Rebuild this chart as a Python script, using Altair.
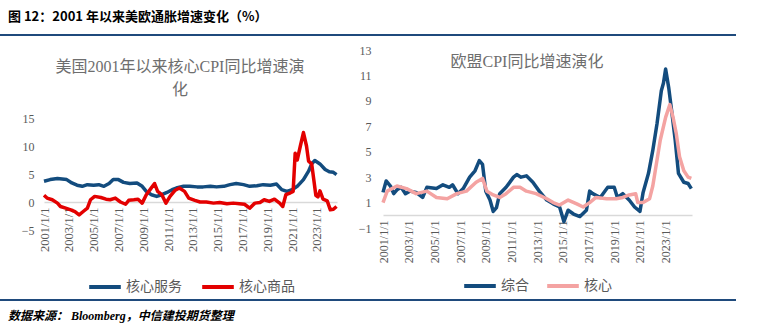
import altair as alt
import pandas as pd

# ---------------- text ----------------
HEADER = "图 12：2001 年以来美欧通胀增速变化（%）"
FOOTER = "数据来源： Bloomberg，中信建投期货整理"
US_TITLE_1 = "美国2001年以来核心CPI同比增速演"
US_TITLE_2 = "化"
EU_TITLE = "欧盟CPI同比增速演化"

US_SERIES = ["核心服务", "核心商品"]
EU_SERIES = ["综合", "核心"]

US_YTICKS = [-5, 0, 5, 10, 15]
EU_YTICKS = [-1, 1, 3, 5, 7, 9, 11, 13]
XTICK_YEARS = [2001, 2003, 2005, 2007, 2009, 2011, 2013, 2015, 2017, 2019, 2021, 2023]

# ---------------- US core services ----------------
us_serv_dates = ["2001-01", "2001-07", "2002-02", "2002-11", "2003-04", "2003-09", "2004-02", "2004-07",
                 "2005-01", "2005-06", "2005-11", "2006-04", "2006-08", "2007-01", "2007-06", "2007-12",
                 "2008-07", "2008-12", "2009-04", "2009-09", "2010-02", "2010-07", "2010-12", "2011-05",
                 "2011-09", "2012-04", "2012-10", "2013-05", "2013-11", "2014-06", "2014-12", "2015-07",
                 "2016-01", "2016-07", "2017-02", "2017-08", "2018-03", "2018-09", "2019-04", "2019-10",
                 "2020-03", "2020-08", "2021-01", "2021-06", "2021-12", "2022-05", "2022-08", "2022-11",
                 "2023-04", "2023-09", "2024-01", "2024-05", "2024-08"]
us_serv_vals = [3.7, 4.0, 4.2, 4.0, 3.4, 3.0, 2.8, 3.1,
                3.0, 3.1, 2.8, 3.3, 4.0, 4.0, 3.5, 3.3,
                3.4, 2.8, 1.9, 1.3, 1.0, 1.3, 1.7, 2.2,
                2.5, 2.8, 2.8, 2.7, 2.7, 2.8, 2.7, 2.8,
                3.1, 3.3, 3.1, 2.8, 2.9, 3.1, 3.0, 3.2,
                2.2, 1.9, 2.2, 2.8, 4.0, 5.5, 6.8, 7.4,
                6.8, 5.8, 5.4, 5.3, 4.9]

# ---------------- US core goods ----------------
us_goods_dates = ["2001-01", "2001-04", "2001-09", "2002-02", "2002-05", "2002-10", "2003-03", "2003-07",
                  "2003-11", "2004-03", "2004-07", "2004-10", "2005-02", "2005-08", "2006-01", "2006-05",
                  "2006-10", "2007-03", "2007-08", "2007-11", "2008-04", "2008-08", "2008-12", "2009-04",
                  "2009-08", "2009-12", "2010-03", "2010-07", "2010-11", "2011-03", "2011-08", "2011-12",
                  "2012-05", "2012-09", "2013-03", "2013-08", "2014-02", "2014-09", "2015-03", "2015-10",
                  "2016-04", "2016-10", "2017-03", "2017-08", "2018-01", "2018-06", "2018-10", "2019-03",
                  "2019-08", "2020-01", "2020-04", "2020-07", "2020-11", "2021-02", "2021-04", "2021-06",
                  "2021-09", "2021-12", "2022-03", "2022-05", "2022-08", "2022-10", "2022-12", "2023-02",
                  "2023-04", "2023-07", "2023-11", "2024-02", "2024-05", "2024-08"]
us_goods_vals = [1.2, 0.7, 0.4, -0.2, -0.8, -1.1, -1.4, -1.7,
                 -2.3, -1.7, -1.1, 0.4, 1.0, 0.8, 0.5, 0.4,
                 0.7, 0.0, -0.4, 0.3, 0.4, 0.5, -0.2, 1.3,
                 2.3, 3.3, 1.9, 1.3, -0.2, 1.0, 2.1, 2.5,
                 1.9, 0.7, 0.3, 0.0, 0.0, -0.2, -0.1, -0.3,
                 -0.2, -0.3, -0.4, -1.1, -0.2, -0.1, 0.4, 0.1,
                 0.5, -0.2, -0.8, 1.3, 1.6, 1.9, 8.7, 7.5,
                 10.0, 12.4, 10.0, 7.3, 6.8, 4.0, 1.2, 0.9,
                 2.0, 0.5, 0.2, -1.4, -1.3, -0.8]

# ---------------- EU headline (综合) ----------------
eu_all_dates = ["2001-01", "2001-04", "2001-08", "2001-11", "2002-02", "2002-06", "2002-10", "2003-02",
                "2003-08", "2004-02", "2004-06", "2005-03", "2005-09", "2006-03", "2006-06", "2006-11",
                "2007-04", "2007-10", "2008-03", "2008-07", "2008-10", "2009-01", "2009-05", "2009-08",
                "2009-11", "2010-02", "2010-08", "2011-03", "2011-06", "2011-10", "2012-03", "2012-09",
                "2013-03", "2013-10", "2014-04", "2014-10", "2015-02", "2015-06", "2015-11", "2016-05",
                "2016-11", "2017-02", "2017-05", "2017-12", "2018-07", "2019-01", "2019-04", "2019-09",
                "2020-03", "2020-08", "2021-01", "2021-04", "2021-09", "2022-01", "2022-05", "2022-09",
                "2022-11", "2023-01", "2023-04", "2023-07", "2023-10", "2024-01", "2024-06", "2024-10",
                "2025-01"]
eu_all_vals = [1.8, 2.7, 2.3, 1.7, 2.0, 2.2, 1.7, 1.9,
               1.8, 1.4, 2.2, 2.1, 2.4, 2.2, 2.4, 1.7,
               2.1, 3.0, 3.5, 4.3, 4.0, 1.9, 1.2, 0.3,
               0.6, 1.7, 2.2, 3.0, 3.2, 3.0, 3.1, 2.6,
               1.9, 1.2, 0.9, 0.65, -0.5, 0.4, 0.1, -0.1,
               0.4, 1.9, 1.7, 1.4, 2.2, 2.2, 1.4, 1.7,
               1.2, 0.65, 0.3, 1.8, 3.3, 5.1, 7.2, 9.8,
               10.4, 11.5, 10.0, 8.0, 5.9, 3.3, 2.6, 2.5,
               2.1]

# ---------------- EU core (核心) ----------------
eu_core_dates = ["2001-01", "2001-05", "2002-02", "2002-11", "2003-08", "2004-06", "2005-03", "2006-01",
                 "2006-10", "2007-07", "2008-04", "2008-10", "2009-02", "2009-08", "2010-02", "2010-08",
                 "2011-03", "2011-09", "2012-03", "2012-12", "2013-10", "2014-04", "2014-10", "2015-06",
                 "2016-02", "2016-08", "2017-02", "2017-08", "2018-06", "2019-03", "2019-09", "2020-03",
                 "2020-09", "2020-11", "2021-04", "2021-10", "2022-01", "2022-03", "2022-08", "2023-01",
                 "2023-05", "2023-08", "2023-11", "2024-02", "2024-06", "2024-10", "2025-01"]
eu_core_vals = [1.0, 1.9, 2.3, 2.1, 1.7, 1.9, 1.4, 1.3,
                1.7, 1.9, 2.6, 2.9, 1.9, 1.6, 1.4, 1.7,
                2.2, 2.2, 1.9, 1.7, 1.3, 1.0, 0.8, 1.2,
                0.9, 0.65, 1.0, 1.4, 1.3, 1.3, 1.4, 1.6,
                1.7, 1.0, 1.0, 1.3, 2.3, 3.3, 5.9, 7.7,
                8.7, 7.7, 6.4, 4.6, 3.5, 3.0, 2.9]

# ---------------- styling ----------------
BLUE = "#134c7e"
RED = "#e30000"
PINK = "#f4a3a2"
RULE = "#1f4a7c"
GRAY = "#595959"
SERIF = "Liberation Serif, Noto Sans CJK SC"
CJK = "Noto Sans CJK SC"


def long_df(names, dates_list, vals_list):
    rows = []
    for name, ds, vs in zip(names, dates_list, vals_list):
        for d, v in zip(ds, vs):
            rows.append({"date": d + "-01", "value": v, "series": name})
    return pd.DataFrame(rows)


us_df = long_df(US_SERIES, [us_serv_dates, us_goods_dates], [us_serv_vals, us_goods_vals])
eu_df = long_df(EU_SERIES, [eu_all_dates, eu_core_dates], [eu_all_vals, eu_core_vals])

tick_dates = [alt.DateTime(year=y, month=1, date=1) for y in XTICK_YEARS]


def panel(df, series, colors, xdom, xrange, ydom, yrange, yticks, x_off, y_off, ylab_pad,
          xlab_size, leg_x, leg_y, col_pad):
    return alt.Chart(df).mark_line(strokeWidth=3.5, strokeJoin="round").encode(
        x=alt.X("date:T",
                scale=alt.Scale(domain=xdom, range=xrange, nice=False),
                axis=alt.Axis(orient="bottom", offset=x_off, values=tick_dates, format="%Y/1/1",
                              labelAngle=270, labelFont=SERIF, labelFontSize=xlab_size,
                              labelColor=GRAY, ticks=False, grid=False, domainColor="#d9d9d9",
                              domainWidth=1.5, labelPadding=5, title=None, labelOverlap=False)),
        y=alt.Y("value:Q",
                scale=alt.Scale(domain=ydom, range=yrange, nice=False, zero=False),
                axis=alt.Axis(orient="left", offset=y_off, values=yticks, labelFont=SERIF,
                              labelFontSize=12, labelColor=GRAY, ticks=False, domain=False,
                              grid=False, labelPadding=ylab_pad, title=None)),
        color=alt.Color("series:N",
                        scale=alt.Scale(domain=series, range=colors),
                        legend=alt.Legend(orient="none", legendX=leg_x, legendY=leg_y,
                                          direction="horizontal", title=None, symbolType="stroke",
                                          symbolSize=1000, symbolStrokeWidth=4, labelFont=SERIF,
                                          labelFontSize=14, labelColor=GRAY, labelOffset=3,
                                          columnPadding=col_pad)),
    )


us_panel = panel(us_df, US_SERIES, [BLUE, RED],
                 [alt.DateTime(year=2001, month=1, date=1), alt.DateTime(year=2024, month=8, date=15)],
                 [44, 337], [-5, 15], [230, 118], US_YTICKS, -133, -44, 10, 12.5, 87, 269, 12)

eu_panel = panel(eu_df, EU_SERIES, [BLUE, PINK],
                 [alt.DateTime(year=2001, month=1, date=1), alt.DateTime(year=2025, month=1, date=20)],
                 [383, 692], [-1, 13], [228, 50], EU_YTICKS, -120, -383, 12, 12, 462, 268, 10)


def text_layer(txt, x, y, size, font, color, weight="normal", style="normal", align="left"):
    return alt.Chart(pd.DataFrame({"t": [txt]})).mark_text(
        font=font, fontSize=size, color=color, fontWeight=weight, fontStyle=style,
        align=align, baseline="middle"
    ).encode(x=alt.value(x), y=alt.value(y), text="t:N")


def rule_layer(x1, x2, y):
    return alt.Chart(pd.DataFrame({"r": [0]})).mark_rule(color=RULE, strokeWidth=2).encode(
        x=alt.value(x1), x2=alt.value(x2), y=alt.value(y))


header = text_layer(HEADER, 8, 17, 13, CJK, "#000000", weight="bold")
footer = text_layer(FOOTER, 8, 316, 12, SERIF, "#000000", weight="bold", style="italic")
us_t1 = text_layer(US_TITLE_1, 180, 67, 16, SERIF, "#6e6e6e", align="center")
us_t2 = text_layer(US_TITLE_2, 180, 90, 16, SERIF, "#6e6e6e", align="center")
eu_t = text_layer(EU_TITLE, 527, 62, 16, SERIF, "#6e6e6e", align="center")

chart = alt.layer(
    us_panel, eu_panel, header, footer, us_t1, us_t2, eu_t,
    rule_layer(0, 736, 35), rule_layer(0, 736, 300)
).resolve_scale(
    x="independent", y="independent", color="independent"
).properties(
    width=773, height=335, padding=0,
    autosize=alt.AutoSizeParams(type="none"),
    background="#ffffff"
).configure_view(strokeWidth=0)

chart.save("out.html", embed_options={"renderer": "svg", "actions": False})
